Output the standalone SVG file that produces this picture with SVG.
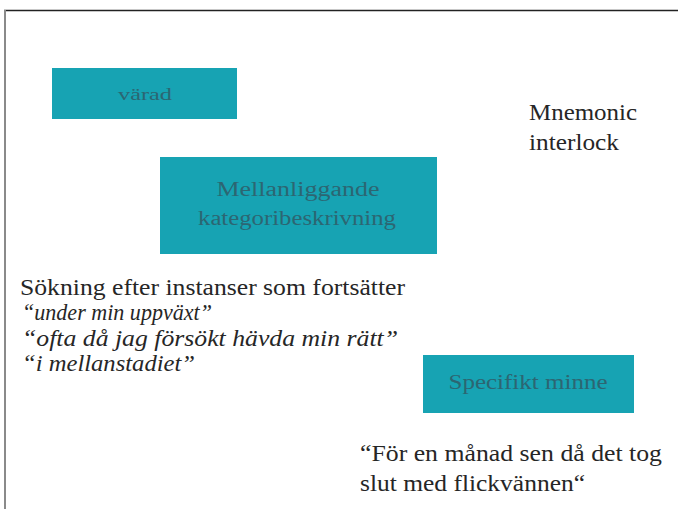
<svg xmlns="http://www.w3.org/2000/svg" width="678" height="509" viewBox="0 0 678 509">
<style>
.box{fill:#17a3b3;}
text{font-family:'Liberation Serif','Times New Roman',Times,Tinos,'Noto Serif','DejaVu Serif',FreeSerif,'Nimbus Roman','Nimbus Roman No9 L',Georgia,serif;}
.bt{fill:#2c6672;text-anchor:middle;}
.t{fill:#262626;font-size:23px;}
.i{font-style:italic;}
</style>
<rect x="0" y="0" width="678" height="509" fill="#ffffff"/>
<line x1="4" y1="10.5" x2="678" y2="10.5" stroke="#222" stroke-width="1.5"/>
<line x1="5" y1="10" x2="5" y2="509" stroke="#8a8a8a" stroke-width="2"/>
<g id="connectors"></g>
<g id="node-varad">
<rect class="box" x="52" y="68" width="185" height="51"/>
<text class="bt" x="145" y="100" font-size="16" textLength="54" lengthAdjust="spacingAndGlyphs">värad</text>
</g>
<g id="node-mellanliggande">
<rect class="box" x="160" y="157" width="277" height="97"/>
<text class="bt" x="298" y="196" font-size="20" textLength="163" lengthAdjust="spacingAndGlyphs">Mellanliggande</text>
<text class="bt" x="297" y="225" font-size="20" textLength="198" lengthAdjust="spacingAndGlyphs">kategoribeskrivning</text>
</g>
<g id="node-specifikt">
<rect class="box" x="423" y="355" width="211" height="58"/>
<text class="bt" x="528" y="389" font-size="20" textLength="159" lengthAdjust="spacingAndGlyphs">Specifikt minne</text>
</g>
<g id="label-mnemonic">
<text class="t" x="529" y="120" textLength="108" lengthAdjust="spacingAndGlyphs">Mnemonic</text>
<text class="t" x="529" y="150" textLength="90" lengthAdjust="spacingAndGlyphs">interlock</text>
</g>
<g id="label-sokning">
<text class="t" x="20" y="295" textLength="385" lengthAdjust="spacingAndGlyphs">Sökning efter instanser som fortsätter</text>
<text class="t i" x="22" y="320" textLength="190" lengthAdjust="spacingAndGlyphs">“under min uppväxt”</text>
<text class="t i" x="22" y="346" textLength="376" lengthAdjust="spacingAndGlyphs">“ofta då jag försökt hävda min rätt”</text>
<text class="t i" x="22" y="371" textLength="173" lengthAdjust="spacingAndGlyphs">“i mellanstadiet”</text>
</g>
<g id="label-quote">
<text class="t" x="360" y="461" textLength="302" lengthAdjust="spacingAndGlyphs">“För en månad sen då det tog</text>
<text class="t" x="360" y="491" textLength="225" lengthAdjust="spacingAndGlyphs">slut med flickvännen“</text>
</g>
</svg>
